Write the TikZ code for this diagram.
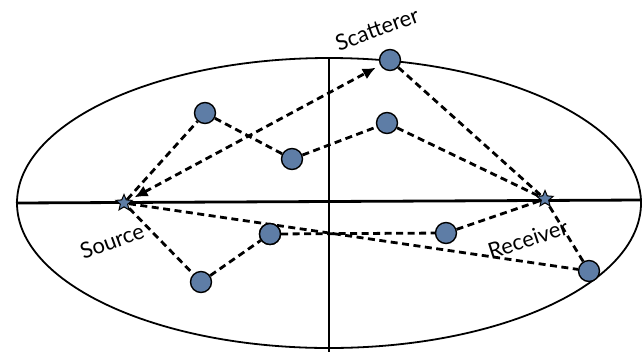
\documentclass[tikz,border=0pt]{standalone}
\usepackage{fontspec}
\setmainfont{Lato}
\usetikzlibrary{shapes.geometric,arrows.meta}
\definecolor{dotblue}{HTML}{5E7DA6}
\tikzset{
  dot/.style={circle,draw=black,line width=1.4pt,fill=dotblue,minimum size=21pt,inner sep=0pt},
  starnode/.style={star,star points=5,star point ratio=2.2,draw=black,line width=1pt,fill=dotblue,minimum size=17pt,inner sep=0pt},
  path/.style={line width=2.8pt,dash pattern=on 7pt off 4.5pt},
  lbl/.style={font=\fontsize{22}{24}\selectfont,inner sep=0pt}
}
\begin{document}
\begin{tikzpicture}[x=1pt,y=-1pt]
\useasboundingbox (0,0) rectangle (644,354);
% ellipse and axes
\draw[line width=1.8pt] (329,203) ellipse [x radius=312,y radius=145];
\coordinate (hl) at (16,203);
\coordinate (hr) at (641,200);
\coordinate (vt) at (329,58);
\coordinate (vb) at (329,352);
\draw[line width=2.8pt] (hl) -- (hr);
\draw[line width=2.8pt] (vt) -- (vb);
% nodes
\node[starnode] (src) at (124,203) {};
\node[starnode] (rcv) at (545,199) {};
\node[dot] (sct) at (390,60) {};
\node[dot] (c1) at (205,113) {};
\node[dot] (c2) at (292,159) {};
\node[dot] (c3) at (387,123) {};
\node[dot] (c4) at (270,234) {};
\node[dot] (c5) at (201,282) {};
\node[dot] (c6) at (446,233) {};
\node[dot] (c7) at (589,271) {};
% connectors
\draw[path,{Latex[length=13pt,width=12pt]}-{Latex[length=13pt,width=12pt]},shorten <=5pt,shorten >=5pt] (src) -- (sct);
\draw[path] (sct) -- (rcv);
\draw[path] (src) -- (c1) -- (c2) -- (c3) -- (rcv);
\draw[path] (src) -- (c5) -- (c4) -- (c6) -- (rcv);
\draw[path] (src) -- (c7) -- (rcv);
\node[dot] at (c4) {};
% labels
\node[lbl,rotate=20] (lsct) at (377,29) {Scatterer};
\node[lbl,rotate=20] (lsrc) at (112,241) {Source};
\node[lbl,rotate=18] (lrcv) at (528,239) {Receiver};
\end{tikzpicture}
\end{document}
